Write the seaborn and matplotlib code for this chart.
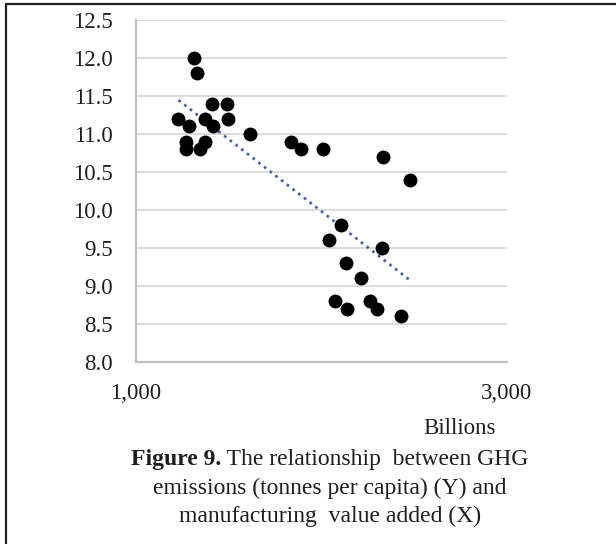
import matplotlib
matplotlib.use('Agg')
import matplotlib.pyplot as plt
import seaborn as sns
import numpy as np
import pandas as pd

# manufacturing value added (billions) and GHG emissions (tonnes per capita)
mva = [1229, 1288, 1267, 1267, 1310, 1327, 1346, 1371, 1371, 1409,
       1416, 1490, 1496, 1615, 1836, 1887, 2007, 2334, 2478, 2105,
       2043, 2326, 2133, 2215, 2071, 2139, 2264, 2300, 2429]
ghg = [11.2, 11.1, 10.9, 10.8, 12.0, 11.8, 10.8, 10.9, 11.2, 11.4,
       11.1, 11.4, 11.2, 11.0, 10.9, 10.8, 10.8, 10.7, 10.4, 9.8,
       9.6, 9.5, 9.3, 9.1, 8.8, 8.7, 8.8, 8.7, 8.6]
y_ticks = [8.0, 8.5, 9.0, 9.5, 10.0, 10.5, 11.0, 11.5, 12.0, 12.5]
x_ticks = [1000, 3000]
x_labels = ['1,000', '3,000']

df = pd.DataFrame({'mva': mva, 'ghg': ghg})

# linear trend line (like excel)
k, b = np.polyfit(df['mva'], df['ghg'], 1)
xs = np.array([df['mva'].min(), df['mva'].max()])
trend = pd.DataFrame({'x': xs, 'y': k * xs + b})

sns.set_style('white')
plt.rcParams['font.family'] = ['Liberation Serif', 'DejaVu Serif']

W, H = 616, 544
TXT = '#1e1e1e'
fig = plt.figure(figsize=(W / 100, H / 100), dpi=100)
ax = fig.add_axes([136 / W, 1 - 362 / H, (507 - 136) / W, (362 - 20) / H])

sns.lineplot(data=trend, x='x', y='y', ax=ax, color='#4a64a8',
             linewidth=2.0, linestyle=(0, (1, 1.6)), zorder=3)
sns.scatterplot(data=df, x='mva', y='ghg', ax=ax, color='black', s=100,
                edgecolor='black', linewidth=0, zorder=4)

ax.set_xlim(1000, 3000)
ax.set_ylim(8.0, 12.5)
ax.set_yticks(y_ticks)
ax.set_yticklabels([f'{v:.1f}' for v in y_ticks], fontsize=16.5, color=TXT)
ax.set_xticks(x_ticks)
ax.set_xticklabels(x_labels, fontsize=16.5, color=TXT)
ax.tick_params(axis='y', length=0, pad=17)
ax.tick_params(axis='x', length=0, pad=15)
ax.set_xlabel('')
ax.set_ylabel('')
ax.grid(axis='y', color='#d9d9d9', linewidth=1.3)
ax.set_axisbelow(True)
for s in ['top', 'right']:
    ax.spines[s].set_visible(False)
for s in ['left', 'bottom']:
    ax.spines[s].set_color('#c0c0c0')
    ax.spines[s].set_linewidth(1.6)

fig.text(460 / W, 1 - 428 / H, 'Billions', fontsize=16.5, ha='center', va='center', color=TXT)

# caption
fig.text(221 / W, 1 - 460 / H, 'Figure 9.', fontsize=17, fontweight='bold', ha='right', va='center', color=TXT)
fig.text(221 / W, 1 - 460 / H, ' The relationship  between GHG', fontsize=17, ha='left', va='center', color=TXT)
fig.text(330 / W, 1 - 488 / H, 'emissions (tonnes per capita) (Y) and', fontsize=17, ha='center', va='center', color=TXT)
fig.text(330 / W, 1 - 516 / H, 'manufacturing  value added (X)', fontsize=17, ha='center', va='center', color=TXT)

# frame lines on top and left
fig.add_artist(plt.Line2D([6 / W, 6 / W], [0, 1 - 4 / H], transform=fig.transFigure, color='#222222', linewidth=1.6))
fig.add_artist(plt.Line2D([6 / W, 1], [1 - 4 / H, 1 - 4 / H], transform=fig.transFigure, color='#222222', linewidth=1.6))

fig.savefig('out.png', dpi=100)
